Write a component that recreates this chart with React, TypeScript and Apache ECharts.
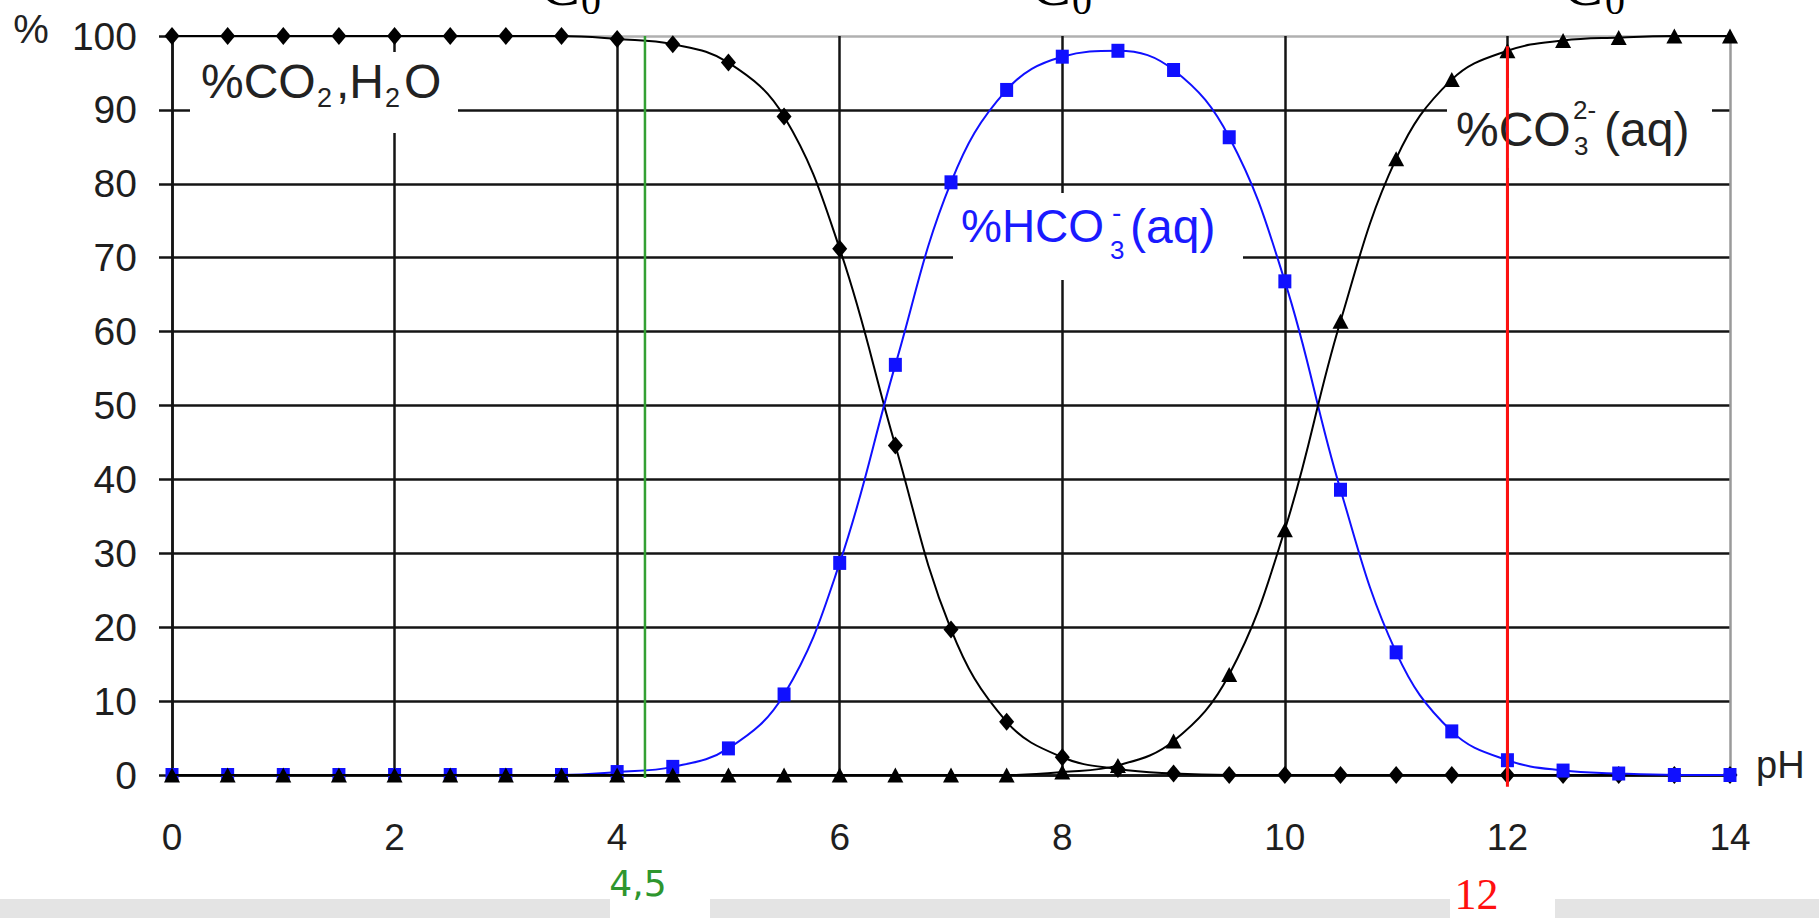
import React, { useEffect, useRef } from "react";
import * as echarts from "echarts";

// pH values (x) and species percentages (y)
const phValues = [0, 0.5, 1, 1.5, 2, 2.5, 3, 3.5, 4, 4.5, 5, 5.5, 6, 6.5, 7, 7.5, 8, 8.5, 9, 9.5, 10, 10.5, 11, 11.5, 12, 12.5, 13, 13.5, 14];
const pctCO2 = [100, 100, 100, 100, 100, 100, 100, 100, 99.6, 98.9, 96.4, 89.1, 71.2, 44.6, 19.7, 7.2, 2.4, 0.8, 0.2, 0, 0, 0, 0, 0, 0, 0, 0, 0, 0];
const pctHCO3 = [0, 0, 0, 0, 0, 0, 0, 0, 0.4, 1.1, 3.6, 10.9, 28.7, 55.5, 80.2, 92.7, 97.2, 98.0, 95.4, 86.3, 66.8, 38.6, 16.6, 5.9, 2.0, 0.6, 0.2, 0, 0];
const pctCO3 = [0, 0, 0, 0, 0, 0, 0, 0, 0, 0, 0, 0, 0, 0, 0, 0, 0.4, 1.3, 4.6, 13.6, 33.2, 61.4, 83.4, 94.1, 98.0, 99.4, 99.8, 100, 100];

const xMin = 0, xMax = 14, xStep = 2;
const yMin = 0, yMax = 100, yStep = 10;

const greenLinePH = 4.25;
const greenLabel = "4,5";
const redLinePH = 12;
const redLineTop = 98.6;
const redLabel = "12";

const FONT = "'Liberation Sans', Arial, Helvetica, sans-serif";

export default function App() {
  const ref = useRef<HTMLDivElement>(null);

  useEffect(() => {
    document.body.style.margin = "0";
    const el = ref.current!;
    const chart = echarts.init(el, null, { renderer: "svg" });

    const xLines = Math.round((xMax - xMin) / xStep) + 1;
    const yLines = Math.round((yMax - yMin) / yStep) + 1;
    const xColors = Array.from({ length: xLines }, (_, i) => (i === xLines - 1 ? "#9a9a9a" : "#141414"));
    const yColors = Array.from({ length: yLines }, (_, i) => (i === yLines - 1 ? "#b0b0b0" : "#141414"));

    const toPairs = (ys: number[]) => phValues.map((x, i) => [x, ys[i]]);

    chart.setOption({
      animation: false,
      backgroundColor: "#ffffff",
      grid: { left: 172, right: 89, top: 36, bottom: 143, containLabel: false },
      xAxis: {
        type: "value",
        min: xMin,
        max: xMax,
        interval: xStep,
        axisLine: { show: true, onZero: false, lineStyle: { color: "#141414", width: 2.5 } },
        axisTick: { show: false },
        axisLabel: { margin: 44, fontSize: 37, color: "#1e1e1e", fontFamily: FONT },
        splitLine: { show: true, lineStyle: { color: xColors, width: 2.5 } },
      },
      yAxis: {
        type: "value",
        min: yMin,
        max: yMax,
        interval: yStep,
        axisLine: { show: true, onZero: false, lineStyle: { color: "#141414", width: 2.5 } },
        axisTick: { show: true, length: 13, lineStyle: { color: "#141414", width: 2.5 } },
        axisLabel: { margin: 35, fontSize: 39, color: "#1e1e1e", fontFamily: FONT },
        splitLine: { show: true, lineStyle: { color: yColors, width: 2.5 } },
      },
      series: [
        {
          name: "CO2",
          type: "line",
          data: toPairs(pctCO2),
          smooth: 0.4,
          symbol: "diamond",
          symbolSize: [15, 18],
          lineStyle: { color: "#000000", width: 2 },
          itemStyle: { color: "#000000" },
          z: 3,
        },
        {
          name: "HCO3",
          type: "line",
          data: toPairs(pctHCO3),
          smooth: 0.4,
          symbol: "rect",
          symbolSize: [13, 14],
          lineStyle: { color: "#1010ff", width: 2 },
          itemStyle: { color: "#1010ff" },
          z: 4,
        },
        {
          name: "CO3",
          type: "line",
          data: toPairs(pctCO3),
          smooth: 0.4,
          symbol: "triangle",
          symbolSize: [16, 15],
          lineStyle: { color: "#000000", width: 2 },
          itemStyle: { color: "#000000" },
          z: 5,
        },
      ],
    });

    const px = (x: number, y: number) => chart.convertToPixel({ gridIndex: 0 }, [x, y]) as number[];
    const gTop = px(greenLinePH, yMax);
    const gBot = px(greenLinePH, -0.4);
    const rTop = px(redLinePH, redLineTop);
    const rBot = px(redLinePH, -1.6);

    const txt = (text: string, x: number, y: number, size: number, fill: string, family = FONT, align = "left", z = 6) => ({
      type: "text",
      x,
      y,
      z,
      silent: true,
      style: {
        text,
        fill,
        fontSize: size,
        fontFamily: family,
        align,
        textAlign: align,
        verticalAlign: "middle",
        textVerticalAlign: "middle",
      },
    });
    const box = (x: number, y: number, w: number, h: number) => ({
      type: "rect",
      z: 1,
      silent: true,
      shape: { x, y, width: w, height: h },
      style: { fill: "#ffffff" },
    });

    const dark = "#222222";
    const blue = "#1a1aff";
    const SERIF = "'Liberation Serif', 'Times New Roman', serif";

    chart.setOption({
      graphic: [
        // label boxes hiding grid lines
        box(190, 52, 268, 81),
        box(953, 193, 290, 87),
        box(1447, 88, 265, 80),
        // %CO2,H2O
        txt("%CO", 201, 81, 48, dark),
        txt("2", 317, 98, 27, dark),
        txt(",H", 336, 81, 48, dark),
        txt("2", 385, 98, 27, dark),
        txt("O", 404, 81, 48, dark),
        // %HCO3-(aq)
        txt("%HCO", 961, 226, 46, blue),
        txt("3", 1110, 250, 26, blue),
        txt("-", 1112, 212, 28, blue),
        txt("(aq)", 1130, 226, 48, blue),
        // %CO3 2-(aq)
        txt("%CO", 1456, 129, 48, dark),
        txt("2-", 1573, 110, 26, dark),
        txt("3", 1574, 146, 26, dark),
        txt("(aq)", 1604, 129, 48, dark),
        // axis names
        txt("%", 31, 29, 40, dark, FONT, "center"),
        txt("pH", 1756, 765, 38, dark),
        // vertical marker lines
        {
          type: "line",
          z: 8,
          silent: true,
          shape: { x1: gTop[0], y1: gTop[1], x2: gBot[0], y2: gBot[1] },
          style: { stroke: "#33a033", lineWidth: 2.5 },
        },
        {
          type: "line",
          z: 8,
          silent: true,
          shape: { x1: rTop[0], y1: rTop[1], x2: rBot[0], y2: rBot[1] },
          style: { stroke: "#ff1010", lineWidth: 3 },
        },
        txt(greenLabel, gTop[0] - 7, 883, 36, "#2e962e", "'DejaVu Sans', sans-serif", "center"),
        txt(redLabel, rTop[0] - 31, 894, 44, "#ff1010", SERIF, "center"),
        // cropped fragments at the top
        txt("C", 580, -15, 60, "#000000", SERIF, "right"),
        txt("0", 581, 0, 40, "#000000", SERIF, "left"),
        txt("C", 1071, -15, 60, "#000000", SERIF, "right"),
        txt("0", 1072, 0, 40, "#000000", SERIF, "left"),
        txt("C", 1603, -15, 60, "#000000", SERIF, "right"),
        txt("0", 1605, 0, 40, "#000000", SERIF, "left"),
        // light grey strip at the bottom
        { type: "rect", z: 0, silent: true, shape: { x: 0, y: 899, width: 610, height: 19 }, style: { fill: "#e4e4e4" } },
        { type: "rect", z: 0, silent: true, shape: { x: 710, y: 899, width: 740, height: 19 }, style: { fill: "#e4e4e4" } },
        { type: "rect", z: 0, silent: true, shape: { x: 1555, y: 899, width: 264, height: 19 }, style: { fill: "#e4e4e4" } },
      ],
    });

    return () => chart.dispose();
  }, []);

  return <div ref={ref} style={{ width: 1819, height: 918 }} />;
}
